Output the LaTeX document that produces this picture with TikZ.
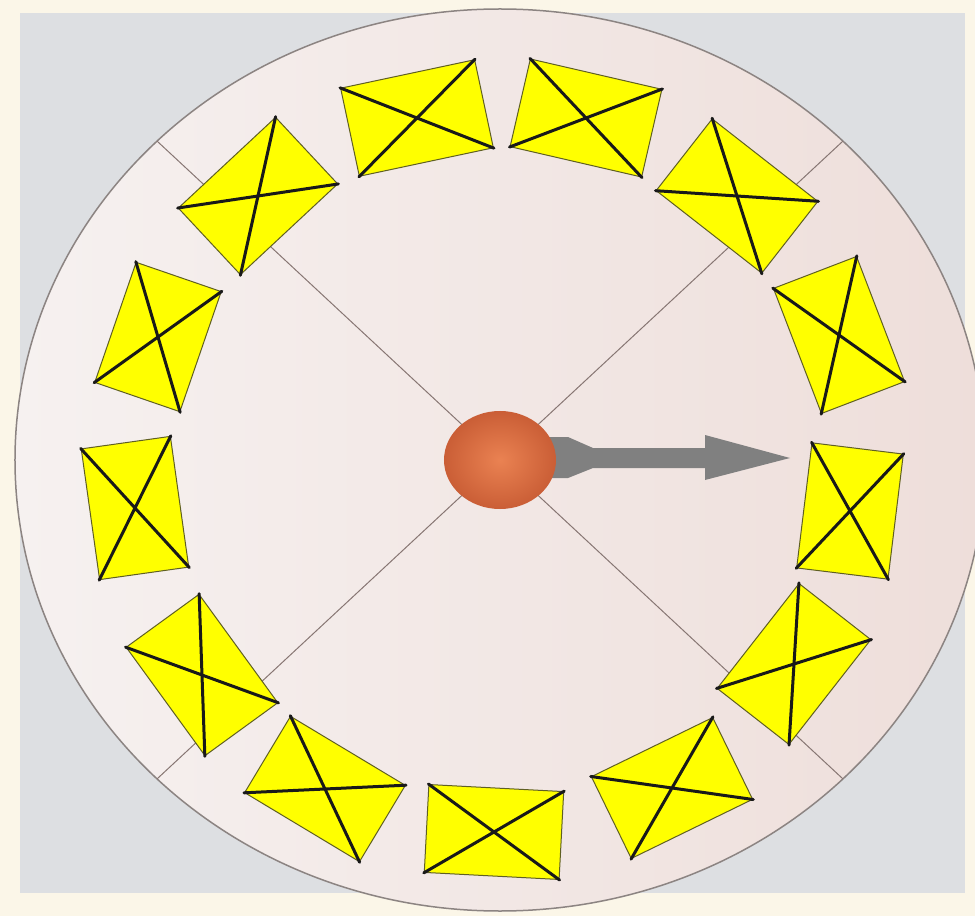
\documentclass[tikz,border=0pt]{standalone}
\usetikzlibrary{calc}

\definecolor{cream}{RGB}{251,246,232}
\definecolor{panel}{RGB}{221,223,226}
\definecolor{diskin}{RGB}{246,241,240}
\definecolor{diskout}{RGB}{238,222,218}
\definecolor{rim}{RGB}{140,132,130}
\definecolor{spoke}{RGB}{135,118,115}
\definecolor{coilyellow}{RGB}{255,255,0}
\definecolor{coilrim}{RGB}{95,95,35}
\definecolor{rotorin}{RGB}{234,130,82}
\definecolor{rotorout}{RGB}{202,94,54}
\definecolor{needle}{RGB}{128,128,128}

\begin{document}
\begin{tikzpicture}[x=1pt, y=1pt,
  coil/.style={draw=coilrim, line width=1pt, fill=coilyellow, inner sep=0pt},
  cross/.style={line width=3pt, line cap=round, black!90}]
  % 画布 975 x 916, 原点 O 在圆盘中心
  \useasboundingbox (-500,-456) rectangle (475,460);
  \clip (-500,-456) rectangle (475,460);
  \fill[cream] (-500,-456) rectangle (475,460);
  \fill[panel] (-480,-433) rectangle (465,447);
  % 圆盘 (右边超出画布)
  \coordinate (O) at (0,0);
  \shade[left color=diskin, right color=diskout] (O) ellipse [x radius=485, y radius=451];
  \draw[rim, line width=1.5pt] (O) ellipse [x radius=485, y radius=451];
  % 四条对角线, 从中心到圆周
  \foreach \a in {45,135,225,315} {
    \coordinate (s\a) at ({485*cos(\a)},{451*sin(\a)});
    \draw[spoke, line width=1pt] (O) -- (s\a);
  }
  % 13 个线圈: 中心 x/y, 转角, 宽, 高
  \foreach \x/\y/\r/\w/\h [count=\i] in {
      -83/342/12/137/90, 86/342/-13/135/90, 237/264/-38/134/91,
      339/125/-69/134/89, 350/-51/83/126/92, 294/-204/52/133/91,
      172/-328/26/135/91, -6/-372/-3/135/88, -175/-329/-31/134/89,
      -298/-215/-54/134/90, -365/-48/-82/132/90, -342/123/71/127/90,
      -242/264/43/133/91} {
    \node[coil, rotate=\r, minimum width=\w pt, minimum height=\h pt] (c\i) at (\x,\y) {};
    \draw[cross] (c\i.north west) -- (c\i.south east)
                 (c\i.north east) -- (c\i.south west);
  }
  % 指针 (灰色箭头)
  \fill[needle] (45,23) -- (68,23) -- (93,12) -- (205,12) -- (205,25) -- (290,2)
    -- (205,-20) -- (205,-8) -- (93,-8) -- (68,-18) -- (45,-18) -- cycle;
  % 转子
  \shade[inner color=rotorin, outer color=rotorout] (O) ellipse [x radius=56, y radius=49];
\end{tikzpicture}
\end{document}
